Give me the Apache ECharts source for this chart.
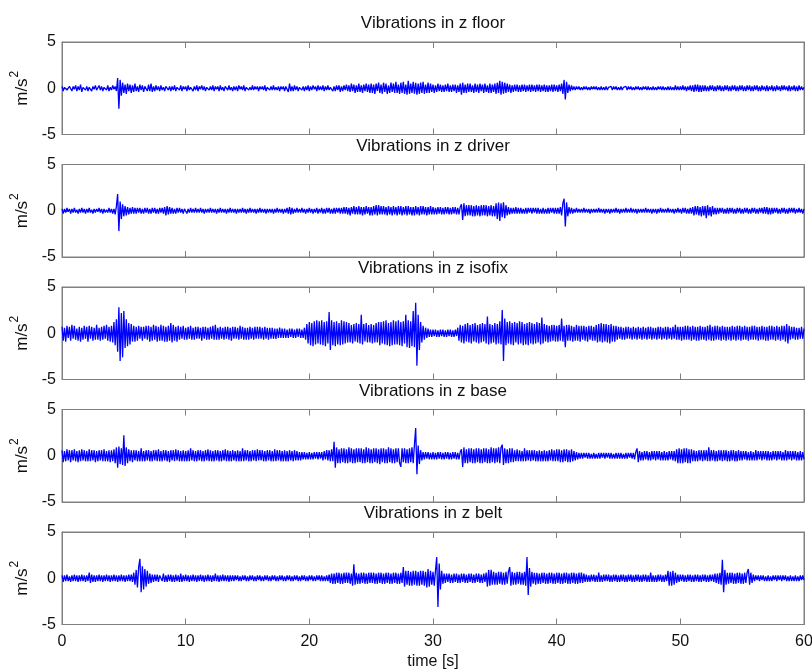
<!DOCTYPE html>
<html>
<head>
<meta charset="utf-8">
<script src="https://cdn.jsdelivr.net/npm/echarts@6/dist/echarts.min.js"></script>
<style>
html,body{margin:0;padding:0;background:#fff;}
#chart{width:812px;height:670px;}
</style>
</head>
<body>
<div id="chart"></div>
<script>
// sampling step of the hand-read signals (seconds); one row below = one second
const timeStep = 0.1;
const panelTitles = ['Vibrations in z floor','Vibrations in z driver','Vibrations in z isofix','Vibrations in z base','Vibrations in z belt'];
const xTicks = [0,10,20,30,40,50,60];
const yTicks = [-5,0,5];

const floorZ = [
0.2,-0.3,0.1,0.3,-0.2,-0.3,0.2,0.1,-0.3,0.2,
-0.1,0.3,-0.3,0.2,-0.2,0.4,-0.4,0.1,0.3,-0.2,
0.2,-0.3,0.1,0.2,-0.3,0.2,-0.1,0.3,-0.2,-0.1,
0.3,-0.2,0.2,-0.3,0.1,0.2,-0.2,0.3,-0.3,0.1,
-0.2,0.3,-0.1,0.2,-0.3,1.1,-2.2,0.9,-0.8,0.6,
-0.5,0.4,-0.6,0.5,-0.3,0.4,-0.5,0.3,-0.4,0.5,
-0.3,0.2,-0.4,0.4,-0.2,0.3,-0.4,0.2,0.3,-0.3,
0.4,-0.3,0.5,-0.4,0.2,-0.3,0.3,-0.2,0.2,-0.3,
0.3,-0.2,0.1,-0.3,0.2,0.3,-0.2,0.2,-0.3,0.2,
-0.2,0.3,-0.3,0.1,0.2,-0.2,0.3,-0.3,0.2,-0.1,
0.2,-0.3,0.3,-0.2,0.1,0.2,-0.3,0.2,-0.2,0.3,
-0.3,0.2,-0.1,0.3,-0.2,0.2,-0.3,0.1,0.3,-0.2,
0.2,-0.2,0.3,-0.3,0.2,-0.1,0.2,-0.3,0.3,-0.2,
0.1,-0.3,0.2,0.2,-0.2,0.3,-0.2,0.1,-0.3,0.2,
-0.2,0.2,-0.3,0.3,-0.1,0.2,-0.2,0.3,-0.3,0.1,
0.2,-0.2,0.1,-0.2,0.3,-0.2,0.2,-0.1,0.2,-0.3,
0.2,-0.1,0.2,-0.2,0.3,-0.3,0.1,0.2,-0.2,0.2,
-0.2,0.3,-0.2,0.1,-0.2,0.2,-0.3,0.2,-0.1,0.2,
-0.3,0.2,0.3,-0.4,0.5,-0.3,0.2,-0.3,0.3,-0.2,
0.2,-0.3,0.1,0.3,-0.2,0.2,-0.3,0.2,-0.2,0.3,
-0.3,0.2,-0.2,0.3,-0.1,0.2,-0.3,0.3,-0.2,0.2,
-0.2,0.3,-0.3,0.2,-0.2,0.3,-0.2,0.1,0.3,-0.3,
0.2,-0.3,0.3,-0.2,0.3,-0.4,0.2,-0.3,0.3,-0.2,
0.4,-0.3,0.3,-0.4,0.5,-0.3,0.4,-0.5,0.3,-0.4,
0.5,-0.4,0.3,-0.5,0.4,-0.3,0.5,-0.4,0.4,-0.5,
0.5,-0.5,0.4,-0.6,0.5,-0.3,0.6,-0.5,0.4,-0.6,
0.6,-0.4,0.5,-0.6,0.3,-0.5,0.6,-0.4,0.5,-0.5,
0.7,-0.5,0.4,-0.6,0.6,-0.5,0.7,-0.6,0.4,-0.7,
0.8,-0.6,0.5,-0.5,0.7,-0.6,0.6,-0.7,0.5,-0.6,
0.6,-0.5,0.7,-0.6,0.4,-0.5,0.6,-0.5,0.5,-0.4,
0.4,-0.5,0.3,-0.4,0.5,-0.3,0.4,-0.4,0.3,-0.4,
0.4,-0.3,0.5,-0.4,0.3,-0.4,0.4,-0.3,0.4,-0.5,
0.3,-0.4,0.5,-0.7,0.6,-0.5,0.4,-0.5,0.5,-0.4,
0.5,-0.4,0.3,-0.5,0.5,-0.4,0.4,-0.5,0.5,-0.3,
0.4,-0.5,0.5,-0.4,0.3,-0.5,0.5,-0.5,0.4,-0.4,
0.5,-0.6,0.6,-0.5,0.8,-0.7,0.7,-0.6,0.6,-0.5,
0.5,-0.4,0.4,-0.5,0.3,-0.4,0.4,-0.3,0.4,-0.4,
0.3,-0.4,0.4,-0.3,0.4,-0.4,0.3,-0.3,0.4,-0.4,
0.4,-0.3,0.3,-0.4,0.4,-0.3,0.4,-0.4,0.3,-0.3,
0.4,-0.4,0.3,-0.4,0.3,-0.3,0.4,-0.4,0.4,-0.3,
0.3,-0.4,0.4,-0.3,0.5,-0.6,0.9,-1.2,0.7,-0.5,
0.4,-0.3,0.3,-0.2,0.2,-0.2,0.2,-0.1,0.2,-0.2,
0.1,-0.2,0.2,-0.1,0.2,-0.2,0.1,-0.2,0.2,-0.1,
0.2,-0.1,0.2,-0.2,0.1,-0.2,0.2,-0.2,0.1,-0.2,
0.2,-0.2,0.1,-0.1,0.2,-0.2,0.2,-0.1,0.2,-0.2,
0.1,-0.2,0.2,-0.2,0.1,-0.1,0.2,-0.2,0.2,-0.1,
0.2,-0.2,0.1,-0.2,0.2,-0.1,0.2,-0.2,0.1,-0.2,
0.2,-0.1,0.2,-0.2,0.2,-0.2,0.1,-0.2,0.2,-0.2,
0.1,-0.2,0.2,-0.1,0.2,-0.2,0.2,-0.2,0.1,-0.2,
0.2,-0.2,0.2,-0.2,0.1,-0.2,0.3,-0.2,0.2,-0.2,
0.2,-0.2,0.3,-0.2,0.2,-0.3,0.2,-0.2,0.3,-0.3,
0.3,-0.4,0.4,-0.3,0.4,-0.4,0.3,-0.4,0.3,-0.3,
0.3,-0.3,0.2,-0.3,0.3,-0.2,0.3,-0.3,0.2,-0.3,
0.3,-0.2,0.3,-0.3,0.2,-0.3,0.3,-0.2,0.3,-0.3,
0.2,-0.3,0.3,-0.2,0.3,-0.3,0.2,-0.3,0.3,-0.2,
0.3,-0.3,0.2,-0.3,0.3,-0.2,0.3,-0.3,0.2,-0.3,
0.3,-0.2,0.3,-0.3,0.2,-0.3,0.3,-0.2,0.2,-0.3,
0.3,-0.3,0.2,-0.2,0.3,-0.3,0.2,-0.3,0.3,-0.2,
0.2,-0.3,0.3,-0.2,0.3,-0.2,0.2,-0.3,0.3,-0.3,
0.2,-0.2,0.3,-0.3,0.2,-0.3,0.3,-0.2,0.2,-0.2,
0.1];

const driverZ = [
0.2,-0.3,0.2,-0.2,0.3,-0.1,0.2,-0.3,0.2,-0.2,
0.3,-0.2,0.1,-0.3,0.2,-0.2,0.3,-0.2,0.2,-0.3,
0.2,-0.2,0.3,-0.2,0.1,-0.3,0.2,-0.2,0.2,-0.1,
0.3,-0.2,0.2,-0.3,0.2,-0.2,0.1,-0.2,0.3,-0.2,
0.2,-0.3,0.2,-0.4,0.5,1.8,-2.2,1.0,-0.9,0.7,
-0.6,0.5,-0.5,0.4,-0.4,0.3,-0.3,0.4,-0.3,0.3,
-0.3,0.3,-0.2,0.3,-0.3,0.2,-0.3,0.3,-0.2,0.3,
-0.3,0.2,-0.3,0.3,-0.2,0.3,-0.3,0.2,-0.3,0.3,
-0.2,0.3,-0.3,0.4,-0.5,0.5,-0.4,0.4,-0.3,0.3,
-0.3,0.2,-0.3,0.3,-0.2,0.3,-0.2,0.2,-0.3,0.2,
0.2,-0.3,0.2,-0.2,0.3,-0.2,0.2,-0.2,0.3,-0.2,
0.2,-0.2,0.3,-0.2,0.2,-0.3,0.2,-0.2,0.2,-0.2,
0.3,-0.2,0.2,-0.2,0.2,-0.3,0.2,-0.2,0.3,-0.2,
0.2,-0.2,0.2,-0.3,0.2,-0.2,0.3,-0.2,0.2,-0.2,
0.2,-0.3,0.2,-0.2,0.2,-0.2,0.3,-0.2,0.2,-0.3,
0.2,-0.2,0.3,-0.2,0.2,-0.2,0.2,-0.3,0.2,-0.2,
0.3,-0.2,0.2,-0.2,0.2,-0.3,0.2,-0.2,0.2,-0.2,
0.2,-0.3,0.2,-0.2,0.3,-0.2,0.2,-0.2,0.2,-0.3,
0.2,-0.2,0.3,-0.3,0.4,-0.4,0.3,-0.3,0.2,-0.2,
0.3,-0.2,0.2,-0.2,0.3,-0.2,0.2,-0.3,0.2,-0.2,
0.3,-0.2,0.2,-0.3,0.2,-0.2,0.3,-0.3,0.2,-0.2,
0.3,-0.3,0.2,-0.3,0.3,-0.2,0.3,-0.3,0.2,-0.3,
0.3,-0.3,0.3,-0.2,0.3,-0.3,0.3,-0.3,0.4,-0.3,
0.4,-0.4,0.3,-0.5,0.4,-0.3,0.5,-0.4,0.4,-0.4,
0.5,-0.4,0.4,-0.5,0.4,-0.4,0.5,-0.3,0.4,-0.5,
0.4,-0.5,0.5,-0.4,0.6,-0.5,0.6,-0.4,0.5,-0.4,
0.5,-0.4,0.4,-0.5,0.5,-0.4,0.4,-0.5,0.5,-0.4,
0.4,-0.5,0.5,-0.4,0.5,-0.5,0.4,-0.4,0.5,-0.5,
0.5,-0.4,0.4,-0.5,0.4,-0.5,0.5,-0.4,0.4,-0.5,
0.5,-0.4,0.5,-0.4,0.4,-0.5,0.4,-0.4,0.5,-0.4,
0.4,-0.4,0.3,-0.4,0.4,-0.3,0.4,-0.4,0.3,-0.4,
0.4,-0.3,0.4,-0.4,0.3,-0.4,0.4,-0.3,0.4,-0.4,
0.3,-0.4,0.4,0.7,-1.0,0.8,-0.6,0.6,-0.5,0.6,
-0.5,0.6,-0.6,0.5,-0.6,0.6,-0.5,0.5,-0.6,0.6,
-0.5,0.6,-0.5,0.6,-0.6,0.5,-0.5,0.6,-0.6,0.5,
-0.6,0.8,-0.9,0.9,-1.1,0.8,-0.7,0.9,-0.8,0.6,
-0.5,0.4,-0.4,0.3,-0.3,0.3,-0.3,0.4,-0.3,0.3,
-0.3,0.3,-0.3,0.2,-0.3,0.3,-0.3,0.3,-0.2,0.3,
-0.3,0.3,-0.2,0.3,-0.3,0.3,-0.3,0.2,-0.3,0.3,
-0.3,0.2,-0.3,0.3,-0.3,0.3,-0.2,0.3,-0.3,0.3,
-0.3,0.3,-0.3,0.4,-0.5,0.8,1.3,-1.7,0.9,-0.6,
0.4,-0.3,0.3,-0.3,0.2,-0.2,0.3,-0.2,0.2,-0.2,
0.2,-0.2,0.3,-0.2,0.2,-0.2,0.2,-0.3,0.2,-0.2,
0.2,-0.2,0.2,-0.2,0.3,-0.2,0.2,-0.2,0.2,-0.3,
0.2,-0.2,0.2,-0.3,0.2,-0.2,0.2,-0.2,0.3,-0.2,
0.2,-0.3,0.2,-0.2,0.2,-0.2,0.3,-0.2,0.2,-0.2,
0.3,-0.2,0.2,-0.2,0.2,-0.3,0.2,-0.2,0.2,-0.2,
0.2,-0.2,0.3,-0.2,0.2,-0.2,0.2,-0.3,0.2,-0.2,
0.2,-0.3,0.2,-0.2,0.3,-0.2,0.2,-0.2,0.2,-0.2,
0.3,-0.2,0.2,-0.2,0.2,-0.3,0.2,-0.2,0.3,-0.2,
0.2,-0.3,0.3,-0.2,0.3,-0.3,0.2,-0.3,0.3,-0.3,
0.4,-0.5,0.5,-0.4,0.5,-0.5,0.4,-0.6,0.5,-0.5,
0.5,-0.8,0.6,-0.5,0.4,-0.6,0.5,-0.4,0.3,-0.4,
0.3,-0.3,0.3,-0.2,0.3,-0.3,0.2,-0.3,0.3,-0.3,
0.3,-0.2,0.3,-0.3,0.2,-0.3,0.3,-0.2,0.3,-0.3,
0.2,-0.3,0.3,-0.2,0.3,-0.3,0.2,-0.3,0.3,-0.2,
0.3,-0.3,0.2,-0.3,0.3,-0.2,0.3,-0.3,0.4,-0.3,
0.4,-0.4,0.3,-0.4,0.3,-0.3,0.3,-0.2,0.3,-0.3,
0.2,-0.3,0.3,-0.2,0.3,-0.3,0.2,-0.3,0.3,-0.2,
0.3,-0.2,0.3,-0.3,0.2,-0.2,0.3,-0.2,0.2,-0.3,
0.2];

const isofixZ = [
0.7,-0.8,0.6,-0.9,0.8,-0.5,0.7,-0.8,0.9,-0.6,
0.8,-0.7,0.5,-0.8,0.7,-0.9,0.6,-0.7,0.8,-0.6,
0.7,-0.9,0.8,-0.6,0.7,-0.8,0.6,-0.7,0.9,-0.7,
0.6,-0.8,0.7,-0.7,0.8,-0.6,0.9,-0.8,0.7,-0.9,
0.8,-1.0,1.2,-1.3,1.5,-2.0,2.8,-3.0,2.2,-2.6,
2.4,-1.6,1.5,-1.4,1.1,-1.2,1.0,-0.9,0.8,-0.9,
0.7,-0.8,0.8,-0.6,0.7,-0.8,0.7,-0.6,0.8,-0.7,
0.8,-0.9,0.7,-0.8,0.9,-0.7,0.8,-0.9,0.7,-0.8,
0.9,-0.8,0.8,-0.9,0.7,-0.9,0.8,-0.8,1.1,-1.0,
0.9,-0.8,0.7,-0.9,0.8,-0.7,0.7,-0.6,0.8,-0.7,
0.6,-0.7,0.7,-0.6,0.8,-0.7,0.6,-0.7,0.7,-0.6,
0.7,-0.6,0.6,-0.8,0.7,-0.6,0.7,-0.7,0.6,-0.7,
0.7,-0.6,0.8,-0.7,0.9,-0.7,0.6,-0.7,0.7,-0.6,
0.6,-0.7,0.7,-0.6,0.7,-0.7,0.6,-0.8,0.7,-0.6,
0.7,-0.6,0.6,-0.7,0.8,-0.6,0.7,-0.7,0.6,-0.7,
0.6,-0.7,0.7,-0.6,0.6,-0.7,0.7,-0.6,0.7,-0.6,
0.7,-0.6,0.6,-0.7,0.7,-0.6,0.6,-0.7,0.6,-0.6,
0.6,-0.6,0.5,-0.6,0.5,-0.5,0.6,-0.5,0.5,-0.5,
0.5,-0.5,0.4,-0.5,0.5,-0.4,0.5,-0.5,0.4,-0.5,
0.5,-0.4,0.5,-0.5,0.4,-0.5,0.6,-0.7,1.0,-1.1,
1.2,-1.3,1.1,-1.4,1.3,-1.2,1.4,-1.1,1.3,-1.2,
1.4,-1.3,1.2,-1.4,1.3,-1.1,2.3,-1.8,1.4,-1.3,
1.2,-1.4,1.3,-1.2,1.1,-1.3,1.4,-1.2,1.3,-1.1,
1.2,-1.0,1.1,-1.0,0.9,-1.1,1.0,-0.9,1.1,-1.0,
1.0,-1.1,2.0,-1.2,1.0,-0.9,1.1,-1.0,0.9,-1.0,
1.0,-1.1,0.9,-1.0,1.1,-1.0,1.2,-1.3,1.2,-1.1,
1.3,-1.2,1.4,-1.3,1.1,-1.4,1.2,-1.3,1.4,-1.2,
1.3,-1.2,1.4,-1.3,1.2,-1.4,1.3,-1.1,2.0,-1.5,
1.4,-1.6,1.3,-1.4,2.4,-1.5,3.3,-3.5,2.0,-1.8,
1.2,-1.0,0.8,-0.7,0.6,-0.5,0.5,-0.4,0.4,-0.4,
0.4,-0.3,0.4,-0.4,0.3,-0.4,0.4,-0.3,0.4,-0.4,
0.3,-0.4,0.4,-0.3,0.4,-0.4,0.3,-0.4,0.4,-0.3,
0.6,-0.8,0.9,-1.0,0.8,-1.1,1.0,-0.9,1.1,-1.0,
0.9,-1.1,1.0,-0.9,1.1,-1.0,0.9,-1.1,1.0,-1.0,
1.1,-0.9,1.0,-1.1,1.8,-1.2,1.0,-1.1,0.9,-1.0,
1.1,-1.2,1.0,-1.1,1.3,-1.2,2.5,-3.0,1.6,-1.3,
1.2,-1.1,1.3,-1.2,1.1,-1.3,1.2,-1.0,1.1,-1.2,
1.3,-1.1,1.2,-1.3,1.0,-1.2,1.1,-1.3,1.2,-1.1,
1.1,-1.2,1.0,-1.1,1.2,-1.0,1.1,-1.2,1.7,-1.1,
1.0,-0.9,0.9,-1.0,0.8,-0.9,0.9,-0.8,0.9,-0.9,
0.8,-0.9,0.9,-0.8,1.6,-0.9,0.8,-1.5,0.9,-0.8,
0.9,-0.8,0.8,-0.9,0.7,-0.8,0.9,-0.8,0.8,-0.9,
0.8,-0.7,0.8,-0.8,0.7,-0.9,0.8,-0.7,0.8,-0.8,
0.7,-0.8,0.9,-1.0,1.0,-0.9,1.1,-1.0,1.0,-0.9,
1.0,-1.0,0.9,-1.1,1.0,-0.9,0.8,-0.9,0.8,-0.7,
0.7,-0.6,0.7,-0.7,0.6,-0.7,0.7,-0.6,0.7,-0.6,
0.6,-0.7,0.7,-0.6,0.6,-0.7,0.7,-0.6,0.6,-0.7,
0.7,-0.6,0.6,-0.7,0.7,-0.6,0.7,-0.7,0.6,-0.6,
0.6,-0.7,0.7,-0.6,0.7,-0.7,0.6,-0.6,0.7,-0.7,
0.7,-0.6,0.6,-0.7,0.7,-0.6,0.9,-0.7,0.7,-0.7,
0.7,-0.8,0.7,-0.7,0.8,-0.7,0.8,-0.7,0.7,-0.8,
0.8,-0.7,0.7,-0.8,0.7,-0.8,0.8,-0.7,0.7,-0.7,
0.7,-0.8,0.8,-0.7,0.9,-0.8,0.7,-0.8,0.8,-0.7,
0.8,-0.7,0.7,-0.8,0.8,-0.7,0.7,-0.8,0.7,-0.7,
0.7,-0.8,0.8,-0.7,0.7,-0.8,0.8,-0.7,0.8,-0.8,
0.7,-0.7,0.8,-0.7,0.7,-0.8,0.7,-0.7,0.8,-0.7,
0.8,-0.7,0.7,-0.8,0.7,-0.7,0.8,-0.7,0.7,-0.8,
0.7,-0.8,0.8,-0.7,0.8,-0.7,0.7,-0.8,0.8,-0.7,
0.7,-0.8,0.8,-0.7,0.8,-0.9,1.0,-1.1,0.8,-0.7,
0.7,-0.6,0.7,-0.7,0.6,-0.7,0.6,-0.6,0.7,-0.6,
0.5];

const baseZ = [
0.6,-0.7,0.5,-0.6,0.7,-0.5,0.6,-0.7,0.6,-0.5,
0.7,-0.6,0.5,-0.7,0.6,-0.6,0.7,-0.5,0.6,-0.6,
0.5,-0.6,0.7,-0.6,0.6,-0.5,0.6,-0.7,0.5,-0.6,
0.6,-0.5,0.6,-0.6,0.7,-0.6,0.5,-0.6,0.6,-0.7,
0.6,-0.6,0.7,-0.8,0.9,-1.3,1.0,-0.9,0.8,-1.0,
2.2,-1.1,0.9,-0.8,0.7,-0.6,0.6,-0.7,0.6,-0.5,
0.6,-0.6,0.5,-0.6,0.8,-0.6,0.5,-0.6,0.6,-0.5,
0.6,-0.6,0.5,-0.6,0.6,-0.5,0.6,-0.6,0.7,-0.6,
0.5,-0.6,0.6,-0.5,0.6,-0.6,0.5,-0.7,0.6,-0.5,
0.6,-0.6,0.7,-0.5,0.6,-0.6,0.5,-0.6,0.6,-0.6,
0.5,-0.6,0.6,-0.6,0.8,-0.5,0.6,-0.6,0.5,-0.6,
0.6,-0.5,0.6,-0.6,0.5,-0.6,0.6,-0.5,0.7,-0.6,
0.6,-0.6,0.5,-0.6,0.6,-0.5,0.6,-0.6,0.5,-0.6,
0.6,-0.5,0.7,-0.6,0.6,-0.6,0.5,-0.6,0.6,-0.5,
0.5,-0.6,0.6,-0.6,0.5,-0.6,0.8,-0.6,0.6,-0.5,
0.6,-0.6,0.5,-0.6,0.6,-0.5,0.6,-0.6,0.7,-0.5,
0.6,-0.5,0.6,-0.6,0.5,-0.6,0.6,-0.5,0.6,-0.6,
0.5,-0.6,0.7,-0.6,0.6,-0.5,0.6,-0.6,0.5,-0.6,
0.6,-0.6,0.5,-0.6,0.6,-0.5,0.5,-0.6,0.6,-0.5,
0.5,-0.5,0.4,-0.5,0.4,-0.4,0.4,-0.4,0.3,-0.4,
0.4,-0.4,0.3,-0.4,0.4,-0.3,0.4,-0.4,0.4,-0.3,
0.4,-0.5,0.5,-0.4,0.6,-0.5,0.6,-0.6,0.7,-0.6,
1.5,-1.3,0.9,-0.8,0.7,-0.8,0.8,-0.7,0.8,-0.8,
0.7,-0.8,0.9,-0.7,0.8,-0.8,0.7,-0.8,0.8,-0.7,
0.8,-0.7,0.8,-0.8,0.7,-0.8,0.9,-0.7,0.8,-0.8,
0.7,-0.8,0.8,-0.7,0.8,-0.8,0.7,-0.9,0.8,-0.7,
0.8,-0.8,0.7,-0.8,0.9,-0.7,0.8,-0.8,0.7,-0.8,
0.8,-0.7,0.8,-0.8,-1.2,0.8,-0.7,0.8,-0.8,0.7,
-0.8,0.8,-0.7,0.9,-0.8,1.2,3.0,-2.0,1.1,-0.9,
0.6,-0.5,0.4,-0.4,0.4,-0.3,0.4,-0.4,0.3,-0.4,
0.4,-0.4,0.3,-0.4,0.4,-0.3,0.4,-0.4,0.3,-0.4,
0.4,-0.3,0.4,-0.4,0.3,-0.4,0.4,-0.3,0.4,-0.4,
0.3,-0.4,0.4,0.7,-1.2,0.9,-0.8,0.7,-0.8,0.8,
-0.7,0.8,-0.8,0.7,-0.8,0.8,-0.7,0.8,-0.8,0.7,
-0.8,0.8,-0.7,0.8,-0.8,0.7,-0.8,0.9,-0.7,0.8,
-0.8,0.8,-0.7,0.9,-0.8,0.9,1.2,-1.0,0.8,-0.8,
0.7,-0.8,0.8,-0.7,0.8,-0.7,0.6,-0.6,0.7,-0.6,
0.6,-0.6,0.5,-0.6,0.8,-0.6,0.6,-0.5,0.6,-0.6,
0.6,-0.5,0.6,-0.6,0.5,-0.6,0.6,-0.6,0.5,-0.6,
0.6,-0.6,0.5,-0.6,0.6,-0.5,0.7,-0.6,0.6,-0.6,
0.7,-0.6,0.7,-0.7,0.6,-0.7,0.7,-0.6,0.7,-0.7,
0.6,-0.7,0.7,-0.6,0.5,-0.5,0.4,-0.4,0.3,-0.3,
0.3,-0.3,0.3,-0.2,0.3,-0.3,0.3,-0.3,0.2,-0.3,
0.3,-0.3,0.2,-0.3,0.3,-0.3,0.3,-0.2,0.3,-0.3,
0.3,-0.2,0.3,-0.3,0.3,-0.3,0.2,-0.3,0.3,-0.3,
0.3,-0.3,0.3,-0.3,0.2,-0.3,0.3,-0.3,0.3,-0.2,
0.3,-0.3,0.3,-0.4,0.4,0.8,-0.7,0.5,-0.5,0.4,
-0.5,0.5,-0.4,0.5,-0.5,0.4,-0.5,0.5,-0.4,0.5,
-0.5,0.5,-0.4,0.5,-0.5,0.4,-0.5,0.5,-0.5,0.4,
-0.5,0.5,-0.4,0.5,-0.5,0.5,-0.6,0.7,-0.8,0.8,
-0.8,0.7,-0.8,0.8,-0.7,0.8,-0.8,0.7,-0.8,0.7,
-0.6,0.6,-0.6,0.5,-0.6,0.6,-0.5,0.6,-0.6,0.6,
-0.5,0.6,-0.6,0.9,-0.6,0.6,-0.5,0.6,-0.6,0.5,
-0.6,0.6,-0.5,0.6,-0.6,0.6,-0.5,0.6,-0.6,0.5,
-0.6,0.6,-0.5,0.6,-0.6,0.5,-0.6,0.6,-0.5,0.5,
-0.5,0.5,-0.4,0.5,-0.5,0.4,-0.5,0.5,-0.5,0.4,
-0.5,0.6,-0.5,0.5,-0.4,0.5,-0.5,0.5,-0.4,0.5,
-0.5,0.5,-0.5,0.4,-0.5,0.5,-0.4,0.5,-0.5,0.5,
-0.4,0.5,-0.5,0.4,-0.5,0.6,-0.5,0.5,-0.4,0.5,
-0.5,0.5,-0.4,0.5,-0.5,0.4,-0.5,0.5,-0.5,0.4,
-0.4];

const beltZ = [
0.3,-0.4,0.3,-0.3,0.4,-0.3,0.2,-0.4,0.3,-0.3,
0.4,-0.3,0.3,-0.4,0.3,-0.3,0.4,-0.3,0.3,-0.4,
0.3,-0.3,0.6,-0.5,0.4,-0.4,0.3,-0.4,0.3,-0.3,
0.4,-0.3,0.3,-0.4,0.3,-0.3,0.4,-0.3,0.3,-0.4,
0.3,-0.3,0.4,-0.3,0.3,-0.4,0.3,-0.3,0.4,-0.3,
0.3,-0.4,0.3,-0.3,0.4,-0.3,0.4,-0.4,0.6,-0.7,
0.9,-1.0,1.2,2.1,-1.5,1.3,-1.2,1.0,-0.9,0.8,
-0.6,0.5,-0.5,0.4,-0.4,0.4,-0.3,0.4,-0.4,0.3,
0.4,-0.3,0.5,-0.4,0.3,-0.4,0.4,-0.3,0.4,-0.4,
0.3,-0.4,0.4,-0.3,0.3,-0.4,0.5,-0.4,0.3,-0.3,
0.4,-0.3,0.3,-0.4,0.3,-0.3,0.4,-0.3,0.3,-0.4,
0.3,-0.3,0.4,-0.3,0.3,-0.4,0.3,-0.3,0.4,-0.3,
0.3,-0.4,0.3,-0.3,0.5,-0.3,0.3,-0.4,0.3,-0.3,
0.4,-0.3,0.3,-0.3,0.3,-0.4,0.3,-0.3,0.3,-0.3,
0.3,-0.2,0.3,-0.3,0.2,-0.3,0.3,-0.2,0.3,-0.3,
0.2,-0.3,0.3,-0.2,0.3,-0.3,0.2,-0.3,0.3,-0.2,
0.3,-0.3,0.2,-0.3,0.3,-0.2,0.3,-0.3,0.2,-0.3,
0.3,-0.2,0.3,-0.3,0.2,-0.3,0.3,-0.2,0.3,-0.3,
0.2,-0.3,0.3,-0.2,0.3,-0.3,0.2,-0.3,0.3,-0.2,
0.3,-0.3,0.2,-0.3,0.3,-0.2,0.3,-0.3,0.2,-0.3,
0.3,-0.2,0.3,-0.3,0.2,-0.3,0.3,-0.2,0.3,-0.3,
0.3,-0.3,0.2,-0.3,0.3,-0.3,0.4,-0.5,0.5,-0.6,
0.5,-0.6,0.6,-0.5,0.6,-0.6,0.5,-0.6,0.6,-0.5,
0.6,-0.5,0.6,-0.6,0.5,-0.8,1.5,-0.7,0.6,-0.6,
0.5,-0.6,0.6,-0.5,0.6,-0.6,0.5,-0.6,0.6,-0.5,
0.6,-0.5,0.6,-0.6,0.5,-0.6,0.6,-0.5,0.6,-0.6,
0.5,-0.6,0.6,-0.5,0.6,-0.6,0.5,-0.6,0.6,-0.5,
0.6,-0.6,0.5,-0.6,0.6,-0.5,1.2,-0.9,0.8,-0.7,
0.8,-0.8,0.7,-0.8,0.8,-0.7,0.8,-0.8,0.7,-0.8,
0.8,-0.7,0.8,-0.8,0.7,-1.0,1.0,-0.9,0.8,-0.7,
0.7,-0.8,0.8,2.3,-3.1,1.6,-1.2,0.8,-0.6,0.5,
-0.5,0.5,-0.4,0.5,-0.5,0.4,-0.5,0.5,-0.4,0.5,
-0.5,0.4,-0.5,0.5,-0.4,0.5,-0.5,0.4,-0.5,0.5,
-0.4,0.5,-0.5,0.4,-0.5,0.5,-0.4,0.5,-0.5,0.4,
-0.5,0.5,-0.4,0.6,-0.9,0.9,-0.8,0.9,-0.7,0.7,
-0.7,0.6,-0.7,0.7,-0.6,0.7,-0.7,0.6,-0.7,0.7,
-0.6,0.7,1.2,-0.8,0.7,-0.7,0.6,-0.7,0.7,-0.6,
0.7,-0.7,0.6,-0.7,0.7,-0.8,2.3,-1.8,1.1,-0.9,
0.7,-0.6,0.6,-0.7,0.6,-0.6,0.5,-0.6,0.6,-0.5,
0.6,-0.6,0.5,-0.6,0.6,-0.5,0.6,-0.6,0.5,-0.6,
0.6,-0.5,0.6,-0.6,0.5,-0.6,0.6,-0.5,0.6,-0.6,
0.5,-0.6,0.6,-0.5,0.6,-0.6,0.5,-0.6,0.6,-0.5,
0.6,-0.5,0.5,-0.4,0.4,-0.4,0.3,-0.4,0.4,-0.3,
0.4,-0.4,0.3,-0.4,0.6,-0.4,0.3,-0.4,0.4,-0.3,
0.4,-0.3,0.4,-0.4,0.3,-0.4,0.4,-0.3,0.4,-0.4,
0.3,-0.4,0.4,-0.3,0.4,-0.4,0.3,-0.4,0.4,-0.3,
0.4,-0.4,0.3,-0.4,0.4,-0.3,0.4,-0.4,0.3,-0.4,
0.4,-0.3,0.4,-0.4,0.3,-0.4,0.6,-0.4,0.3,-0.4,
0.3,-0.4,0.4,-0.3,0.4,-0.4,0.3,-0.4,0.4,-0.3,
0.8,-0.8,0.7,-0.8,0.8,-0.7,0.6,-0.5,0.4,-0.4,
0.4,-0.3,0.4,-0.4,0.3,-0.4,0.4,-0.3,0.4,-0.4,
0.3,-0.4,0.4,-0.3,0.4,-0.4,0.3,-0.4,0.4,-0.3,
0.4,-0.4,0.3,-0.4,0.4,-0.3,0.4,-0.4,0.5,-0.5,
0.5,-0.6,0.6,-0.7,2.0,-1.5,0.9,-0.7,0.6,-0.6,
0.6,-0.5,0.6,-0.6,0.5,-0.6,0.6,-0.5,0.6,-0.6,
0.5,-0.6,0.6,-0.5,0.6,1.0,-0.7,0.6,-0.5,0.4,
-0.3,0.3,-0.2,0.3,-0.3,0.3,-0.2,0.3,-0.3,0.2,
-0.3,0.3,-0.3,0.2,-0.3,0.3,-0.2,0.3,-0.3,0.3,
-0.2,0.3,-0.3,0.3,-0.2,0.3,-0.3,0.2,-0.3,0.3,
-0.3,0.2,-0.3,0.3,-0.3,0.2,-0.3,0.3,-0.2,0.3,
-0.2];

const signals = [floorZ, driverZ, isofixZ, baseZ, beltZ];

const chart = echarts.init(document.getElementById('chart'), null, {renderer: 'canvas'});

const gridLeft = 62, gridWidth = 742, gridTop0 = 42, gridStep = 122.5, gridHeight = 92.5;
const frameColor = '#808080';
const textColor = '#111';
const fontFam = 'Liberation Sans, Arial, sans-serif';

const grids = [], xAxes = [], yAxes = [], series = [], titles = [];
signals.forEach((sig, k) => {
  const top = gridTop0 + k * gridStep;
  grids.push({left: gridLeft, top: top, width: gridWidth, height: gridHeight,
    containLabel: false, outerBoundsMode: 'none',
    show: true, borderColor: frameColor, borderWidth: 1, backgroundColor: '#fff'});
  titles.push({text: panelTitles[k], left: gridLeft + gridWidth / 2, textAlign: 'center',
    top: top - 27, padding: 0,
    textStyle: {fontSize: 17, fontWeight: 'normal', color: textColor, fontFamily: fontFam}});
  const isLast = k === signals.length - 1;
  xAxes.push({gridIndex: k, type: 'value', min: xTicks[0], max: xTicks[xTicks.length - 1], interval: 10,
    position: 'bottom',
    axisLine: {show: true, onZero: false, lineStyle: {color: frameColor, width: 1}},
    axisTick: {show: true, inside: true, length: 6, lineStyle: {color: frameColor}},
    axisLabel: {show: isLast, margin: 9, fontSize: 16, color: textColor, fontFamily: fontFam},
    splitLine: {show: false},
    name: isLast ? 'time [s]' : '', nameLocation: 'middle', nameGap: 29,
    nameTextStyle: {fontSize: 16, color: textColor, fontFamily: fontFam}});
  xAxes.push({gridIndex: k, type: 'value', min: xTicks[0], max: xTicks[xTicks.length - 1], interval: 10,
    position: 'top',
    axisLine: {show: true, onZero: false, lineStyle: {color: frameColor, width: 1}},
    axisTick: {show: true, inside: true, length: 6, lineStyle: {color: frameColor}},
    axisLabel: {show: false}, splitLine: {show: false}});
  yAxes.push({gridIndex: k, type: 'value', min: yTicks[0], max: yTicks[yTicks.length - 1], interval: 5,
    position: 'left',
    axisLine: {show: true, onZero: false, lineStyle: {color: frameColor, width: 1}},
    axisTick: {show: true, inside: true, length: 6, lineStyle: {color: frameColor}},
    axisLabel: {show: true, margin: 6, fontSize: 16, color: textColor, fontFamily: fontFam},
    splitLine: {show: false},
    name: '{a|m/s}{b|2}', nameLocation: 'middle', nameGap: 27, nameRotate: 90,
    nameTextStyle: {color: textColor, fontFamily: fontFam,
      rich: {a: {fontSize: 17, lineHeight: 22, color: textColor, fontFamily: fontFam, verticalAlign: 'bottom'},
             b: {fontSize: 12, lineHeight: 22, color: textColor, fontFamily: fontFam, verticalAlign: 'top', padding: [0, 0, 0, 1]}}}});
  yAxes.push({gridIndex: k, type: 'value', min: yTicks[0], max: yTicks[yTicks.length - 1], interval: 5,
    position: 'right',
    axisLine: {show: true, onZero: false, lineStyle: {color: frameColor, width: 1}},
    axisTick: {show: true, inside: true, length: 6, lineStyle: {color: frameColor}},
    axisLabel: {show: false}, splitLine: {show: false}});
  series.push({type: 'line', xAxisIndex: 2 * k, yAxisIndex: 2 * k,
    data: sig.map((v, i) => [Math.round(i * timeStep * 10) / 10, v]),
    showSymbol: false, symbol: 'none', smooth: false, sampling: null,
    lineStyle: {color: '#0000ff', width: 1.3}, itemStyle: {color: '#0000ff'},
    animation: false, z: 3});
});

chart.setOption({
  backgroundColor: '#fff',
  animation: false,
  title: titles,
  grid: grids,
  xAxis: xAxes,
  yAxis: yAxes,
  series: series
});
</script>
</body>
</html>
